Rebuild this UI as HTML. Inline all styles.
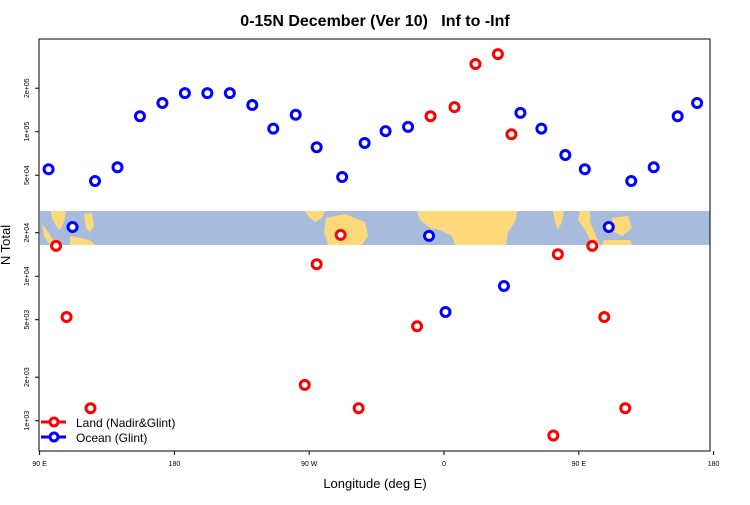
<!DOCTYPE html>
<html><head><meta charset="utf-8"><style>
body{margin:0;background:#fff;}
svg text{font-family:"Liberation Sans",sans-serif;}
</style></head><body>
<svg id="chart" width="750" height="500" viewBox="0 0 750 500" xmlns="http://www.w3.org/2000/svg">
<text x="375" y="26" text-anchor="middle" font-size="16" font-weight="bold">0-15N December (Ver 10)&#160;&#160; Inf to -Inf</text>
<g id="map">
<rect x="40" y="211" width="670" height="34" fill="#a7bcdc"/>
<g fill="#fed97a">
<polygon points="51,211 66,211 64,222 60,230 56,226 52,218"/>
<polygon points="42,224 48,232 55,243 50,245 44,236"/>
<polygon points="84,214 92,213 94,226 90,232 86,228"/>
<polygon points="70,236 90,240 95,245 70,245"/>
<polygon points="305,211 325,211 322,218 315,222 308,216"/>
<polygon points="326,218 345,214 365,222 368,236 362,245 328,245 324,232"/>
<polygon points="417,211 517,211 515,222 508,232 506,245 455,245 452,236 440,230 430,228 420,220"/>
<polygon points="553,211 564,211 562,222 558,230 555,222"/>
<polygon points="580,211 590,211 590,222 596,236 600,245 593,245 585,230 578,220"/>
<polygon points="612,218 628,216 632,228 622,236 614,232"/>
<polygon points="604,240 630,240 632,245 602,245"/>
</g>
</g>
<rect x="39" y="39" width="671" height="412" fill="none" stroke="#000" stroke-width="1"/>
<text transform="translate(10,245) rotate(-90)" text-anchor="middle" font-size="13">N Total</text>
<text x="375" y="488" text-anchor="middle" font-size="13">Longitude (deg E)</text>
<g id="axes"></g>
<g id="marks"></g>
<g>
<line x1="41" y1="422" x2="66" y2="422" stroke="#f00" stroke-width="3"/>
<circle cx="54" cy="422" r="4" fill="#fff" stroke="#f00" stroke-width="3"/>
<text x="76" y="427" font-size="12">Land (Nadir&amp;Glint)</text>
<line x1="41" y1="437" x2="66" y2="437" stroke="#00f" stroke-width="3"/>
<circle cx="54" cy="437" r="4" fill="#fff" stroke="#00f" stroke-width="3"/>
<text x="76" y="442" font-size="12">Ocean (Glint)</text>
</g>
</svg>
<script>
const xTicks=[90,180,270,360,450,540];
const xTickLabels=["90 E","180","90 W","0","90 E","180"];
const yTicks=[1000,2000,5000,10000,20000,50000,100000,200000];
const yTickLabels=["1e+03","2e+03","5e+03","1e+04","2e+04","5e+04","1e+05","2e+05"];
const landLon=[101,108,124,267,275,291,303,342,351,367,381,396,405,433,436,459,467,481];
const landVal=[16200,5220,1220,1770,12100,19300,1220,4500,128000,148000,294000,344000,96000,790,14200,16200,5220,1220];
const oceanLon=[96,112,127,142,157,172,187,202,217,232,246,261,275,292,307,321,336,350,361,400,411,425,441,454,470,485,500,516,529];
const oceanVal=[55000,21900,45600,56800,128000,158000,185000,185000,185000,153000,105000,131000,78000,48600,83500,101000,108000,19000,5650,8550,135000,105000,69000,55000,21900,45600,56800,128000,158000];
const NS="http://www.w3.org/2000/svg";
function xs(l){return 39.6+(l-90)*1.4978;}
function ys(v){return 420.7-144.5*Math.log10(v/1000);}
const axes=document.getElementById('axes'),marks=document.getElementById('marks');
function mk(t,a,p){const e=document.createElementNS(NS,t);for(const k in a)e.setAttribute(k,a[k]);p.appendChild(e);return e;}
xTicks.forEach((t,i)=>{const x=xs(t);
const l=mk('line',{x1:x,y1:451,x2:x,y2:455,stroke:'#000'},axes);


const tx=mk('text',{x:x,y:466,'text-anchor':'middle','font-size':7},axes);tx.textContent=xTickLabels[i];

});
yTicks.forEach((t,i)=>{const y=ys(t);
const l=mk('line',{x1:35,y1:y,x2:39,y2:y,stroke:'#000'},axes);


const tx=mk('text',{transform:`translate(29,${y}) rotate(-90)`,'text-anchor':'middle','font-size':7},axes);tx.textContent=yTickLabels[i];

});
function pts(lons,vals,col,name){lons.forEach((l,i)=>{const c=mk('circle',{cx:xs(l),cy:ys(vals[i]),r:4.5,fill:'#fff',stroke:col,'stroke-width':3},marks);

});}
pts(landLon,landVal,'#f00','land-point');
pts(oceanLon,oceanVal,'#00f','ocean-point');
</script>
</body></html>
